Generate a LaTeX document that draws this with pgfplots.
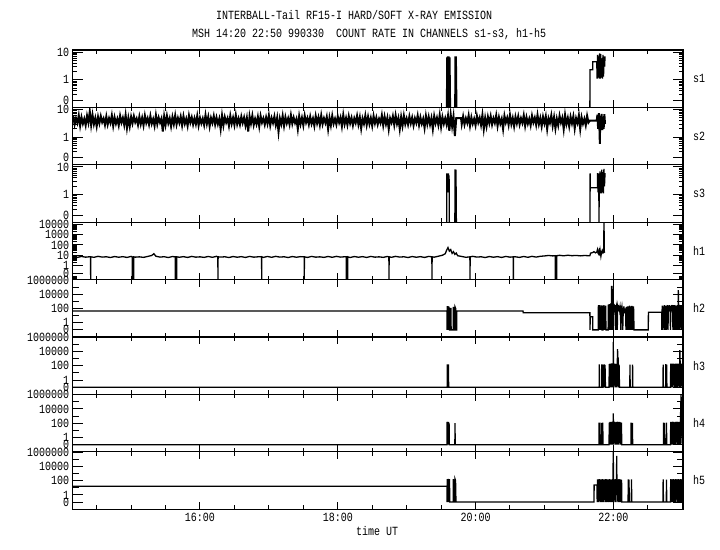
\documentclass[border=0pt]{standalone}
\usepackage{fontspec}
\setmainfont{Liberation Mono}[FakeStretch=0.8]
\usepackage{pgfplots}
\pgfplotsset{compat=1.18}
\newcommand\lbl{\fontsize{12.5bp}{13bp}\selectfont}

\pgfplotsset{
  panel/.style={
    scale only axis, width=610.3bp, height=57.4bp,
    anchor=north west, at={(72.7bp,-#1)},
    xmin=14.152, xmax=23.012,
    xtick={16,18,20,22}, xticklabels={},
    minor xtick={14.5,15,15.5,16.5,17,17.5,18.5,19,19.5,20.5,21,21.5,22.5},
    axis line style={line width=1.1bp},
    tick style={black, line width=1bp},
    xtick style={/pgfplots/major tick length=7bp, /pgfplots/minor tick length=4bp},
    ytick style={/pgfplots/major tick length=10bp, /pgfplots/minor tick length=4bp},
    tick label style={font=\lbl},
    unbounded coords=jump,
  },
  trace/.style={black, mark=none, line width=1.3bp},
  spanel/.style={ymin=0.1, ymax=12, ytick={0.18,1,10}, yticklabels={0,1,10},
    minor ytick={0.3,0.4,0.5,0.6,0.7,0.8,0.9,2,3,4,5,6,7,8,9}},
  h1panel/.style={ymin=0.044, ymax=15600, ytick={0.17,1,10,100,1000,10000},
    yticklabels={0,1,10,100,1000,10000},
    minor ytick={0.05,0.06,0.07,0.08,0.09,2,3,4,5,6,7,8,9,20,30,40,50,60,70,80,90,200,300,400,500,600,700,800,900,2000,3000,4000,5000,6000,7000,8000,9000}},
  hpanel/.style={ymin=0.01, ymax=1.1e6, ytick={0.1,1,100,10000,1000000},
    yticklabels={0,1,100,10000,1000000}, minor ytick={10,1000,100000},
    ytick style={/pgfplots/major tick length=10bp, /pgfplots/minor tick length=6bp}},
}

\begin{document}
\begin{tikzpicture}
\useasboundingbox (0,0) rectangle (720bp,-550bp);
\node[anchor=west, inner sep=0, font=\lbl] at (216bp,-15bp) {INTERBALL-Tail RF15-I HARD/SOFT X-RAY EMISSION};
\node[anchor=west, inner sep=0, font=\lbl] at (192bp,-34bp) {MSH 14:20 22:50 990330\ \ COUNT RATE IN CHANNELS s1-s3, h1-h5};

% s1
\begin{semilogyaxis}[panel=50bp, spanel]
\addplot[trace] coordinates {(19.580,0.1)(19.582,6.5)(19.588,4)(19.590,0.1)(19.594,7)(19.600,0.1)(19.604,6)(19.610,0.1)(19.614,7)(19.620,3)(19.624,0.1)(19.628,6.5)(19.636,0.1)(19.640,nan)
(19.700,0.1)(19.702,7)(19.710,4.5)(19.714,0.1)(19.720,7)(19.728,0.1)(19.730,nan)
(21.660,0.1)(21.662,2.3)(21.700,2.3)(21.702,4.5)(21.760,4.5)(21.765,1.1)(21.772,8)(21.780,1.2)(21.788,7)(21.795,1.1)(21.802,9)(21.810,1.1)(21.818,8.5)(21.826,1.2)(21.834,6)(21.842,1.1)(21.850,8)(21.858,1.3)(21.866,7)(21.874,3)(21.880,7)};
\end{semilogyaxis}

% s2
\begin{semilogyaxis}[panel=107.4bp, spanel]
\addplot[trace, line width=2bp] coordinates {
(14.152,5.6)(14.16,5.6)(14.18,2.9)(14.20,4.8)(14.22,3.3)(14.24,6.1)(14.26,2.6)(14.28,5.2)(14.30,3.1)(14.32,4.6)(14.34,2.7)
(14.36,5.9)(14.38,3.4)(14.40,8.4)(14.42,2.8)(14.44,6.3)(14.46,3.0)(14.48,4.9)(14.50,2.5)(14.52,5.4)(14.54,3.2)
(14.56,5.7)(14.58,3.5)(14.60,4.7)(14.62,2.8)(14.64,5.6)(14.66,2.9)(14.68,4.8)(14.70,3.3)(14.72,6.1)(14.74,2.6)
(14.76,5.2)(14.78,3.1)(14.80,4.6)(14.82,2.7)(14.84,5.9)(14.86,3.4)(14.88,5.0)(14.90,2.8)(14.92,6.3)(14.94,2.2)
(14.96,4.9)(14.98,2.5)(15.00,5.4)(15.02,3.2)(15.04,5.7)(15.06,3.5)(15.08,4.7)(15.10,2.8)(15.12,5.5)(15.14,3.0)
(15.16,5.0)(15.18,2.7)(15.20,6.0)(15.22,3.3)(15.24,4.8)(15.26,2.9)(15.28,5.8)(15.30,3.1)(15.32,4.5)(15.34,2.6)
(15.36,6.2)(15.38,3.0)(15.40,5.1)(15.42,3.4)(15.44,4.7)(15.46,1.6)(15.48,5.6)(15.50,2.8)(15.52,5.9)(15.54,3.2)
(15.56,4.8)(15.58,2.5)(15.60,5.3)(15.62,3.0)(15.64,6.1)(15.66,2.9)(15.68,4.9)(15.70,3.3)(15.72,5.5)(15.74,2.7)
(15.76,5.7)(15.78,3.1)(15.80,4.6)(15.82,2.6)(15.84,6.0)(15.86,3.4)(15.88,5.2)(15.90,2.9)(15.92,4.8)(15.94,3.0)
(15.96,5.9)(15.98,2.7)(16.00,5.0)(16.02,3.2)(16.04,4.7)(16.06,2.8)(16.08,6.3)(16.10,3.1)(16.12,5.4)(16.14,2.5)
(16.16,4.9)(16.18,3.3)(16.20,5.8)(16.22,2.9)(16.24,5.1)(16.26,3.0)(16.28,4.6)(16.30,2.0)(16.32,6.0)(16.34,2.7)
(16.36,5.3)(16.38,3.4)(16.40,4.8)(16.42,2.6)(16.44,5.9)(16.46,3.1)(16.48,5.0)(16.50,2.8)(16.52,6.2)(16.54,3.0)
(16.56,4.7)(16.58,2.9)(16.60,5.5)(16.62,3.3)(16.64,5.1)(16.66,2.7)(16.68,4.9)(16.70,1.6)(16.72,5.7)(16.74,3.2)
(16.76,6.0)(16.78,2.8)(16.80,4.6)(16.82,3.0)(16.84,5.4)(16.86,2.5)(16.88,5.8)(16.90,3.4)(16.92,4.8)(16.94,2.9)
(16.96,5.2)(16.98,3.1)(17.00,6.1)(17.02,2.7)(17.04,4.9)(17.06,3.3)(17.08,5.6)(17.10,2.8)(17.12,5.0)(17.14,1.6)
(17.16,4.7)(17.18,3.0)(17.20,5.9)(17.22,2.6)(17.24,5.3)(17.26,3.2)(17.28,4.8)(17.30,2.9)(17.32,6.2)(17.34,3.1)
(17.36,5.1)(17.38,3.3)(17.40,4.6)(17.42,2.0)(17.44,5.7)(17.46,3.0)(17.48,5.0)(17.50,2.7)(17.52,6.0)(17.54,3.4)
(17.56,4.9)(17.58,2.9)(17.60,5.5)(17.62,3.1)(17.64,4.7)(17.66,2.6)(17.68,5.8)(17.70,3.2)(17.72,5.2)(17.74,2.8)
(17.76,6.1)(17.78,3.0)(17.80,4.8)(17.82,3.3)(17.84,5.4)(17.86,2.0)(17.88,5.0)(17.90,2.7)(17.92,5.9)(17.94,3.1)
(17.96,4.6)(17.98,2.9)(18.00,5.6)(18.02,3.4)(18.04,5.1)(18.06,2.5)(18.08,6.3)(18.10,3.0)(18.12,4.9)(18.14,2.8)
(18.16,5.7)(18.18,3.2)(18.20,5.0)(18.22,2.7)(18.24,4.8)(18.26,3.3)(18.28,5.9)(18.30,2.9)(18.32,5.2)(18.34,2.1)
(18.36,4.7)(18.38,3.1)(18.40,6.0)(18.42,2.8)(18.44,5.4)(18.46,3.0)(18.48,4.9)(18.50,2.6)(18.52,5.8)(18.54,3.2)
(18.56,5.1)(18.58,2.9)(18.60,4.6)(18.62,3.3)(18.64,6.2)(18.66,2.7)(18.68,5.5)(18.70,3.0)(18.72,5.0)(18.74,2.0)
(18.76,4.8)(18.78,3.4)(18.80,5.7)(18.82,2.8)(18.84,6.1)(18.86,3.1)(18.88,4.9)(18.90,2.0)(18.92,5.3)(18.94,2.6)
(18.96,5.9)(18.98,3.0)(19.00,4.7)(19.02,2.9)(19.04,5.6)(19.06,3.2)(19.08,5.1)(19.10,2.7)(19.12,4.8)(19.14,3.3)
(19.16,6.0)(19.18,2.8)(19.20,5.2)(19.22,3.1)(19.24,4.6)(19.26,2.2)(19.28,5.8)(19.30,3.0)(19.32,5.4)(19.34,2.9)
(19.36,4.9)(19.38,2.0)(19.40,5.7)(19.42,3.2)(19.44,5.0)(19.46,2.8)(19.48,6.2)(19.50,2.4)(19.52,5.3)(19.54,3.1)
(19.56,4.8)(19.58,2.9)(19.60,5.9)(19.62,1.7)(19.64,6.4)(19.66,2.5)(19.68,5.6)(19.70,1.1)(19.72,4.9)(19.79,4.9)
(19.80,3.0)(19.82,5.6)(19.84,2.9)(19.86,4.8)(19.88,3.3)(19.90,6.1)(19.92,2.6)(19.94,5.2)(19.96,3.1)(19.98,4.6)
(20.00,2.7)(20.02,5.9)(20.04,3.4)(20.06,5.0)(20.08,2.8)(20.10,6.3)(20.12,2.0)(20.14,4.9)(20.16,2.5)(20.18,5.4)
(20.20,3.2)(20.22,5.7)(20.24,2.9)(20.26,4.8)(20.28,3.3)(20.30,6.1)(20.32,2.6)(20.34,5.2)(20.36,3.1)(20.38,4.6)
(20.40,2.0)(20.42,5.9)(20.44,3.4)(20.46,5.0)(20.48,2.8)(20.50,6.3)(20.52,3.0)(20.54,4.9)(20.56,2.5)(20.58,5.4)
(20.60,3.2)(20.62,5.6)(20.64,2.9)(20.66,4.8)(20.68,3.3)(20.70,6.1)(20.72,2.6)(20.74,5.2)(20.76,3.1)(20.78,4.6)
(20.80,2.7)(20.82,5.9)(20.84,3.4)(20.86,5.0)(20.88,2.8)(20.90,6.3)(20.92,3.0)(20.94,4.9)(20.96,2.5)(20.98,5.4)
(21.00,3.2)(21.02,5.6)(21.04,2.0)(21.06,4.8)(21.08,3.3)(21.10,6.1)(21.12,2.6)(21.14,5.2)(21.16,2.1)(21.18,4.6)
(21.20,2.7)(21.22,5.9)(21.24,3.4)(21.26,5.0)(21.28,2.0)(21.30,6.3)(21.32,3.0)(21.34,4.9)(21.36,2.5)(21.38,5.4)
(21.40,3.2)(21.42,5.6)(21.44,2.1)(21.46,4.8)(21.48,3.3)(21.50,6.1)(21.52,2.0)(21.54,5.2)(21.56,3.1)(21.58,4.6)
(21.60,2.7)(21.62,5.9)(21.64,3.4)(21.66,4.0)(21.76,4.0)(21.77,6.5)(21.78,2.0)(21.79,7.4)(21.80,1.7)(21.805,0.57)
(21.81,6)(21.82,2.2)(21.83,7)(21.84,1.8)(21.85,5.5)(21.86,2.0)(21.87,6.8)(21.88,3.0)};
\end{semilogyaxis}

% s3
\begin{semilogyaxis}[panel=164.8bp, spanel]
\addplot[trace] coordinates {(19.582,0.1)(19.584,5.9)(19.590,1.5)(19.594,5.5)(19.600,1.2)(19.606,5.9)(19.612,1.4)(19.616,5)(19.620,0.1)(19.630,nan)
(19.700,0.1)(19.703,8.2)(19.710,5)(19.716,8)(19.722,0.1)(19.730,nan)
(21.662,0.1)(21.664,5.9)(21.666,1.77)(21.770,1.77)(21.772,6)(21.778,1.2)(21.784,5.5)(21.790,1.5)(21.793,0.1)(21.796,5.9)(21.802,1.1)(21.808,7)(21.814,1.3)(21.820,6)(21.826,1.1)(21.832,8)(21.840,1.2)(21.848,6.5)(21.856,1.1)(21.864,8.5)(21.872,2)(21.880,6)};
\end{semilogyaxis}

% h1
\begin{semilogyaxis}[panel=222.2bp, h1panel]
\addplot[trace] coordinates {(14.152,7.0)(14.22,6.2)(14.28,7.6)(14.34,6.5)(14.40,7.2)(14.411,7)(14.413,0.044)(14.415,7)(14.46,6.3)(14.52,7.8)(14.58,6.6)(14.64,7.1)(14.70,6.0)(14.76,7.5)(14.82,6.4)(14.88,7.3)(14.94,6.1)(15.00,7.7)
(15.015,7)(15.017,0.044)(15.037,0.044)(15.039,7)(15.06,6.5)(15.12,7.0)(15.18,6.2)(15.24,7.6)(15.30,9.5)(15.33,14)(15.36,8.0)(15.42,6.6)(15.48,7.2)(15.54,6.0)(15.60,7.5)
(15.640,7)(15.642,0.044)(15.662,0.044)(15.664,7)(15.70,6.4)(15.76,7.3)(15.82,6.1)(15.88,7.7)(15.94,6.5)(16.00,7.0)(16.06,6.2)(16.12,7.6)(16.18,6.3)(16.24,7.8)
(16.259,7)(16.261,0.044)(16.263,7)(16.30,6.6)(16.36,7.1)(16.42,6.0)(16.48,7.5)(16.54,6.4)(16.60,7.3)(16.66,6.1)(16.72,7.7)(16.78,6.5)(16.84,7.0)
(16.894,7)(16.896,0.044)(16.898,7)(16.92,6.2)(16.98,7.6)(17.04,6.3)(17.10,7.8)(17.16,6.6)(17.22,7.1)(17.28,6.0)(17.34,7.5)(17.40,6.4)(17.46,7.3)
(17.512,7)(17.514,0.044)(17.516,7)(17.56,6.1)(17.62,7.7)(17.68,6.5)(17.74,7.0)(17.80,6.2)(17.86,7.6)(17.92,6.3)(17.98,7.8)(18.04,6.6)(18.10,7.1)
(18.122,7)(18.124,0.044)(18.144,0.044)(18.146,7)(18.18,6.0)(18.24,7.5)(18.30,6.4)(18.36,7.3)(18.42,6.1)(18.48,7.7)(18.54,6.5)(18.60,7.0)(18.66,6.2)(18.72,7.6)
(18.742,7)(18.744,0.044)(18.746,7)(18.78,6.3)(18.84,7.8)(18.90,6.6)(18.96,7.1)(19.02,6.0)(19.08,7.5)(19.14,6.4)(19.20,7.3)(19.26,6.1)(19.32,7.7)
(19.366,7)(19.368,0.044)(19.370,7)(19.40,6.5)(19.46,8.0)(19.52,10)(19.56,14)(19.58,30)(19.60,55)(19.62,25)(19.64,35)(19.66,15)(19.68,22)(19.70,12)(19.72,16)(19.74,9)(19.80,7.6)(19.86,6.3)
(19.918,7)(19.920,0.044)(19.922,7)(19.96,7.8)(20.02,6.6)(20.08,7.1)(20.14,6.0)(20.20,7.5)(20.26,6.4)(20.32,7.3)(20.38,6.1)(20.44,7.7)(20.50,6.5)
(20.547,7)(20.549,0.044)(20.551,7)(20.58,7.0)(20.64,6.2)(20.70,7.6)(20.76,6.3)(20.82,7.8)(20.88,6.6)(20.94,7.9)(21.00,8.5)(21.06,9.5)(21.12,8.6)
(21.156,9)(21.158,0.044)(21.178,0.044)(21.180,9)(21.22,9.8)(21.28,8.8)(21.34,10)(21.40,9.0)(21.46,9.6)(21.52,8.7)(21.58,9.4)(21.64,9.0)
(21.66,9)(21.67,16)(21.70,18)(21.72,22)(21.74,17)(21.76,20)(21.77,35)(21.78,15)(21.79,12)(21.80,50)(21.805,10)(21.81,25)(21.82,8)(21.83,20)(21.84,30)(21.85,18)(21.86,25)(21.865,15600)(21.87,20)(21.88,22)};
\end{semilogyaxis}

% h2
\begin{semilogyaxis}[panel=279.6bp, hpanel]
\addplot[trace] coordinates {(14.152,43)(19.586,43)(19.587,0.1)(19.589,215)(19.595,0.1)(19.600,215)(19.606,60)(19.612,0.1)(19.616,180)(19.622,0.1)(19.640,0.1)(19.642,120)(19.646,0.1)(19.676,0.1)(19.678,170)(19.684,0.1)(19.700,0.1)(19.702,170)(19.712,100)(19.716,0.1)(19.726,0.1)(19.728,43)
(20.690,43)(20.692,25)(21.660,25)(21.662,0.1)(21.665,7)(21.700,7)(21.702,0.1)(21.780,0.1)
(21.784,300)(21.790,0.1)(21.796,250)(21.802,0.1)(21.808,300)(21.814,0.1)(21.820,200)(21.826,0.1)(21.832,280)(21.836,0.1)(21.850,0.1)(21.853,250)(21.860,0.1)(21.866,300)(21.872,0.1)(21.878,200)(21.884,0.1)(21.890,250)(21.893,0.1)
(21.925,0.1)(21.928,350)(21.934,0.1)(21.940,400)(21.946,0.1)(21.952,300)(21.958,0.1)(21.964,500)(21.970,0.1)(21.975,1.5e5)(21.980,0.1)(21.986,400)(21.992,0.1)(22.000,1.5e5)(22.002,0.1)
(22.006,300)(22.012,150)(22.018,200)(22.024,80)(22.030,300)(22.035,0.1)(22.040,150)(22.046,250)(22.052,60)(22.058,0.1)(22.062,200)(22.068,100)(22.074,300)(22.080,40)(22.086,200)(22.092,60)(22.098,150)(22.104,30)(22.110,0.1)
(22.114,250)(22.120,50)(22.126,150)(22.132,30)(22.138,0.1)(22.142,120)(22.148,40)(22.154,200)(22.160,30)(22.166,100)(22.172,20)(22.178,80)(22.184,0.1)(22.190,150)(22.196,0.1)(22.202,200)(22.208,0.1)(22.214,100)(22.218,0.1)
(22.222,200)(22.228,0.1)(22.234,250)(22.240,0.1)(22.246,200)(22.252,0.1)(22.258,180)(22.264,0.1)(22.270,220)(22.276,0.1)(22.282,150)(22.288,0.1)(22.294,200)(22.301,0.1)(22.508,0.1)(22.510,30)(22.703,30)(22.705,0.1)
(22.710,250)(22.716,40)(22.722,0.1)(22.728,200)(22.734,50)(22.740,300)(22.746,0.1)(22.752,250)(22.758,40)(22.764,200)(22.770,0.1)(22.776,250)(22.782,60)(22.788,300)(22.794,0.1)(22.800,220)(22.806,40)(22.812,280)(22.818,50)(22.824,200)(22.830,0.1)
(22.836,250)(22.842,40)(22.848,300)(22.854,60)(22.860,220)(22.866,0.1)(22.872,280)(22.878,40)(22.884,250)(22.890,0.1)(22.896,300)(22.902,50)(22.908,200)(22.914,0.1)(22.920,250)(22.926,40)(22.932,280)(22.938,0.1)(22.944,3.7e4)(22.950,50)
(22.956,250)(22.962,0.1)(22.968,300)(22.974,40)(22.980,250)(22.986,0.1)(22.992,280)(22.998,60)(23.004,250)(23.010,0.1)};
\end{semilogyaxis}

% h3
\begin{semilogyaxis}[panel=337bp, hpanel]
\addplot[trace] coordinates {(14.152,0.1)(19.588,0.1)(19.590,160)(19.594,0.1)(19.598,140)(19.602,60)(19.606,160)(19.610,0.1)(21.795,0.1)(21.797,160)(21.800,0.1)(21.832,0.1)(21.834,160)(21.837,0.1)
(21.852,0.1)(21.855,150)(21.862,0.1)(21.868,160)(21.875,0.1)(21.880,140)(21.886,0.1)(21.938,0.1)(21.942,180)(21.948,0.1)(21.954,200)(21.960,40)(21.966,180)(21.972,0.1)(21.978,220)(21.984,50)(21.990,160)(21.996,0.1)
(22.000,2.3e5)(22.004,0.1)(22.010,150)(22.016,40)(22.022,200)(22.028,0.1)(22.034,180)(22.040,60)(22.046,180)(22.052,0.1)(22.058,150)(22.062,2.2e4)(22.066,100)(22.072,200)(22.078,0.1)(22.084,150)(22.090,0.1)
(22.240,0.1)(22.242,150)(22.245,0.1)(22.278,0.1)(22.280,150)(22.283,0.1)(22.722,0.1)(22.724,150)(22.727,0.1)(22.760,0.1)(22.762,180)(22.768,0.1)(22.775,150)(22.778,0.1)
(22.830,0.1)(22.834,200)(22.840,0.1)(22.846,180)(22.852,40)(22.858,200)(22.864,0.1)(22.870,180)(22.876,50)(22.882,200)(22.888,0.1)(22.894,150)(22.900,60)(22.906,200)(22.912,0.1)(22.918,180)(22.924,40)(22.930,200)(22.936,0.1)
(22.942,150)(22.948,60)(22.954,200)(22.960,0.1)(22.966,1.6e4)(22.972,80)(22.978,200)(22.984,0.1)(22.990,180)(22.996,50)(23.002,200)(23.008,0.1)(23.012,0.1)};
\end{semilogyaxis}

% h4
\begin{semilogyaxis}[panel=394.4bp, hpanel]
\addplot[trace] coordinates {(14.152,0.1)(19.586,0.1)(19.588,160)(19.592,0.1)(19.596,150)(19.600,60)(19.604,160)(19.610,0.1)(19.616,120)(19.620,0.1)(19.700,0.1)(19.702,100)(19.705,0.1)
(21.792,0.1)(21.794,120)(21.797,0.1)(21.803,0.1)(21.805,120)(21.808,0.1)(21.830,0.1)(21.832,110)(21.838,0.1)(21.846,120)(21.852,0.1)
(21.938,0.1)(21.942,120)(21.948,0.1)(21.954,150)(21.960,40)(21.966,130)(21.972,0.1)(21.978,160)(21.984,50)(21.990,120)(21.996,0.1)(22.000,2500)(22.004,0.1)(22.010,140)(22.016,40)(22.022,160)(22.028,0.1)
(22.034,130)(22.040,50)(22.046,150)(22.052,0.1)(22.058,140)(22.064,40)(22.070,160)(22.076,0.1)(22.082,130)(22.088,50)(22.094,150)(22.100,0.1)(22.106,130)(22.112,0.1)(22.118,120)(22.123,0.1)
(22.256,0.1)(22.258,120)(22.262,0.1)(22.276,0.1)(22.278,110)(22.281,0.1)(22.728,0.1)(22.730,120)(22.736,0.1)(22.742,110)(22.746,0.1)(22.770,0.1)(22.772,120)(22.776,0.1)
(22.830,0.1)(22.834,150)(22.840,40)(22.846,130)(22.852,0.1)(22.858,160)(22.864,50)(22.870,120)(22.876,0.1)(22.882,150)(22.888,40)(22.894,130)(22.900,0.1)(22.906,160)(22.912,50)(22.918,130)(22.924,0.1)
(22.930,150)(22.936,40)(22.942,160)(22.948,0.1)(22.954,130)(22.960,50)(22.966,150)(22.972,0.1)(22.978,5e3)(22.984,1e6)(22.988,100)(22.994,160)(23.000,0.1)(23.006,150)(23.012,0.1)};
\end{semilogyaxis}

% h5
\begin{semilogyaxis}[panel=451.8bp, hpanel, xticklabels={16:00,18:00,20:00,22:00}]
\addplot[trace] coordinates {(14.152,16)(19.586,16)(19.587,0.1)(19.589,170)(19.593,0.1)(19.597,160)(19.601,70)(19.605,170)(19.609,0.1)(19.613,150)(19.617,0.1)(19.622,170)(19.626,0.1)(19.676,0.1)(19.678,160)(19.684,0.1)(19.700,0.1)(19.702,170)(19.710,100)(19.716,0.1)
(21.720,0.1)(21.722,24)(21.764,24)(21.766,0.1)
(21.772,150)(21.778,30)(21.784,130)(21.790,0.1)(21.796,160)(21.802,40)(21.808,140)(21.814,0.1)(21.820,150)(21.826,30)(21.832,130)(21.838,0.1)(21.844,160)(21.850,40)(21.856,140)(21.862,0.1)(21.868,150)(21.874,30)(21.880,130)(21.886,0.1)
(21.892,160)(21.898,40)(21.904,140)(21.910,0.1)(21.916,150)(21.922,30)(21.928,130)(21.934,0.1)(21.940,160)(21.946,40)(21.952,140)(21.958,0.1)(21.964,150)(21.970,30)(21.976,130)(21.982,0.1)(21.988,160)(21.994,40)(22.000,1e6)(22.004,0.1)
(22.010,150)(22.016,30)(22.022,130)(22.028,0.1)(22.034,160)(22.040,40)(22.046,140)(22.050,2.9e5)(22.054,0.1)(22.060,150)(22.066,30)(22.072,130)(22.078,0.1)(22.084,160)(22.090,40)(22.096,140)(22.102,0.1)(22.108,150)(22.114,30)(22.120,130)(22.124,0.1)
(22.215,0.1)(22.217,150)(22.222,0.1)(22.228,140)(22.232,0.1)(22.262,0.1)(22.264,150)(22.268,0.1)(22.722,0.1)(22.724,150)(22.728,0.1)(22.770,0.1)(22.772,140)(22.776,0.1)
(22.830,0.1)(22.834,160)(22.840,30)(22.846,140)(22.852,0.1)(22.858,150)(22.864,40)(22.870,160)(22.876,0.1)(22.882,130)(22.888,30)(22.894,150)(22.900,0.1)(22.906,160)(22.912,40)(22.918,140)(22.924,0.1)(22.930,150)(22.936,30)(22.942,160)
(22.948,0.1)(22.954,140)(22.960,40)(22.966,150)(22.972,0.1)(22.978,160)(22.984,30)(22.990,140)(22.996,0.1)(23.002,150)(23.008,40)(23.012,0.1)};
\end{semilogyaxis}

\foreach \lab/\yy in {s1/78.7, s2/136.1, s3/193.5, h1/250.9, h2/308.3, h3/365.7, h4/423.1, h5/480.5}
  \node[anchor=west, inner sep=0, font=\lbl] at (693bp,-\yy bp) {\lab};
\node[font=\lbl, inner sep=0] at (377bp,-531bp) {time UT};
\end{tikzpicture}
\end{document}
